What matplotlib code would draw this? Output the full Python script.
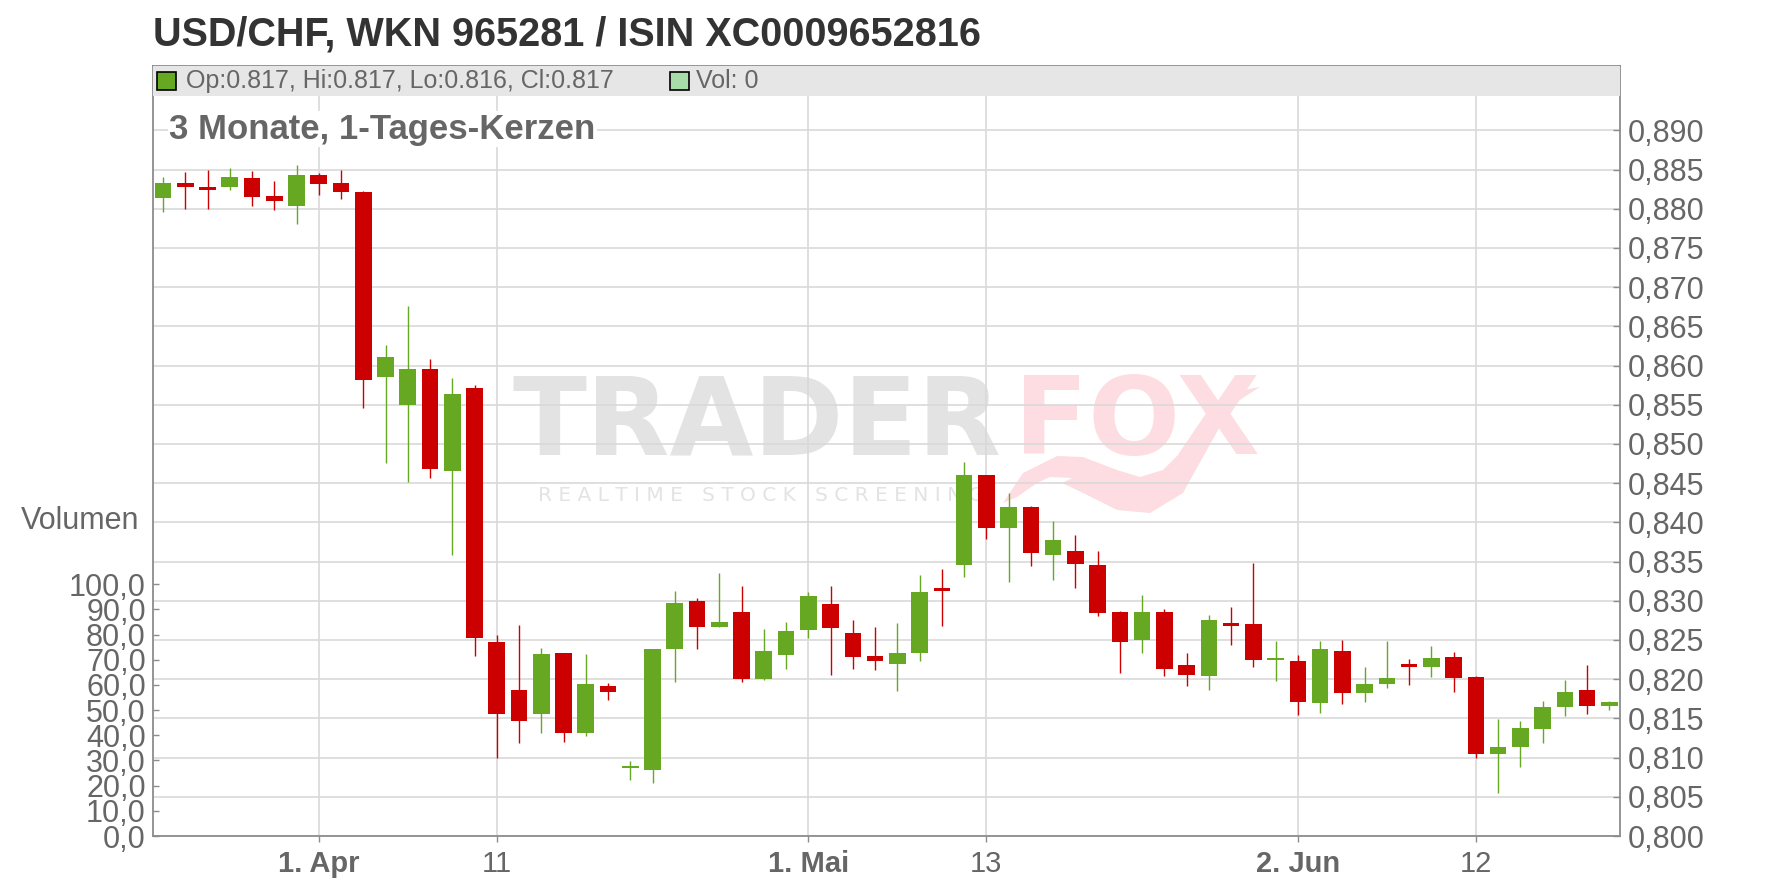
import numpy as np
import pandas as pd
import matplotlib
matplotlib.use("Agg")
import matplotlib.pyplot as plt
from matplotlib.patches import Rectangle, Polygon
from matplotlib.ticker import FixedLocator, FuncFormatter

plt.rcParams["font.family"] = ["Liberation Sans", "DejaVu Sans"]

# ---------------- data ----------------
dates = pd.bdate_range("2025-03-21", "2025-06-20")

open_ = [0.8814, 0.8833, 0.8828, 0.8828, 0.8839, 0.8816, 0.8803, 0.8843, 0.8833, 0.8821,
         0.8585, 0.8550, 0.8596, 0.8466, 0.8571, 0.8247, 0.8186, 0.8155, 0.8233, 0.8132,
         0.8191, 0.8087, 0.8084, 0.8238, 0.8300, 0.8266, 0.8286, 0.8200, 0.8231, 0.8263,
         0.8296, 0.8259, 0.8230, 0.8219, 0.8233, 0.8315, 0.8346, 0.8461, 0.8393, 0.8420,
         0.8358, 0.8364, 0.8346, 0.8286, 0.8250, 0.8286, 0.8218, 0.8204, 0.8272, 0.8270,
         0.8224, 0.8223, 0.8170, 0.8236, 0.8183, 0.8194, 0.8219, 0.8216, 0.8228, 0.8203,
         0.8104, 0.8113, 0.8137, 0.8164, 0.8186, 0.8166]
high = [0.8841, 0.8847, 0.8849, 0.8852, 0.8848, 0.8835, 0.8856, 0.8846, 0.8849, 0.8823,
        0.8626, 0.8676, 0.8608, 0.8584, 0.8575, 0.8257, 0.8269, 0.8240, 0.8233, 0.8232,
        0.8195, 0.8096, 0.8239, 0.8313, 0.8304, 0.8335, 0.8319, 0.8264, 0.8273, 0.8311,
        0.8319, 0.8276, 0.8267, 0.8272, 0.8333, 0.8341, 0.8477, 0.8461, 0.8437, 0.8421,
        0.8402, 0.8384, 0.8364, 0.8287, 0.8307, 0.8290, 0.8233, 0.8282, 0.8292, 0.8348,
        0.8249, 0.8231, 0.8249, 0.8250, 0.8216, 0.8249, 0.8226, 0.8242, 0.8235, 0.8204,
        0.8149, 0.8147, 0.8172, 0.8199, 0.8218, 0.8172]
low = [0.8796, 0.8800, 0.8800, 0.8824, 0.8804, 0.8799, 0.8781, 0.8817, 0.8813, 0.8546,
       0.8476, 0.8451, 0.8456, 0.8359, 0.8230, 0.8099, 0.8118, 0.8132, 0.8120, 0.8128,
       0.8174, 0.8071, 0.8067, 0.8197, 0.8238, 0.8266, 0.8197, 0.8199, 0.8213, 0.8253,
       0.8205, 0.8213, 0.8212, 0.8185, 0.8223, 0.8268, 0.8330, 0.8379, 0.8324, 0.8344,
       0.8327, 0.8316, 0.8281, 0.8208, 0.8233, 0.8204, 0.8191, 0.8186, 0.8244, 0.8216,
       0.8198, 0.8154, 0.8157, 0.8169, 0.8171, 0.8189, 0.8192, 0.8203, 0.8184, 0.8099,
       0.8055, 0.8088, 0.8119, 0.8153, 0.8155, 0.8161]
close = [0.8833, 0.8828, 0.8824, 0.8841, 0.8815, 0.8810, 0.8843, 0.8832, 0.8821, 0.8582,
         0.8611, 0.8596, 0.8468, 0.8564, 0.8252, 0.8156, 0.8147, 0.8232, 0.8132, 0.8194,
         0.8184, 0.8089, 0.8239, 0.8297, 0.8266, 0.8273, 0.8200, 0.8236, 0.8261, 0.8306,
         0.8265, 0.8228, 0.8223, 0.8233, 0.8311, 0.8313, 0.8460, 0.8393, 0.8420, 0.8361,
         0.8378, 0.8347, 0.8284, 0.8247, 0.8286, 0.8213, 0.8205, 0.8276, 0.8268, 0.8224,
         0.8225, 0.8171, 0.8239, 0.8182, 0.8194, 0.8202, 0.8215, 0.8227, 0.8201, 0.8104,
         0.8114, 0.8138, 0.8165, 0.8184, 0.8166, 0.8171]

tick_dates = ["2025-04-01", "2025-04-11", "2025-05-01", "2025-05-13", "2025-06-02", "2025-06-12"]
tick_labels = ["1. Apr", "11", "1. Mai", "13", "2. Jun", "12"]
tick_bold = [True, False, True, False, True, False]

price_ticks = [0.800, 0.805, 0.810, 0.815, 0.820, 0.825, 0.830, 0.835, 0.840, 0.845,
               0.850, 0.855, 0.860, 0.865, 0.870, 0.875, 0.880, 0.885, 0.890]
volume_ticks = [0, 10, 20, 30, 40, 50, 60, 70, 80, 90, 100]

title = "USD/CHF, WKN 965281 / ISIN XC0009652816"
subtitle = "3 Monate, 1-Tages-Kerzen"
legend_text = "Op:0.817, Hi:0.817, Lo:0.816, Cl:0.817"
volume_legend = "Vol: 0"

# ---------------- style ----------------
GREEN = "#66a822"
RED = "#cc0000"
GRID = "#d9d9d9"
AXIS = "#8c8c8c"
LABEL = "#666666"
WM_GRAY = "#e3e3e3"
WM_PINK = "#fddde1"

W, H = 1776, 888
fig = plt.figure(figsize=(W / 100, H / 100), dpi=100)
fig.patch.set_facecolor("white")


def fx(px):
    return px / W


def fy(py):
    return 1 - py / H


L, R, T, B = 152.7, 1620.3, 65.7, 836.0
ax = fig.add_axes([fx(L), fy(B), fx(R) - fx(L), fy(T) - fy(B)])
ax2 = ax.twinx()
ax.set_xlim(-0.465, 65.49)
ax.set_ylim(0.800, 0.89825)

o = np.array(open_)
h = np.array(high)
lo = np.array(low)
c = np.array(close)
x = np.arange(len(dates))
up = c >= o
colors = np.where(up, GREEN, RED)

ax.vlines(x, lo, h, colors=colors, linewidths=1.0, zorder=3)
body_bottom = np.minimum(o, c)
body_h = np.maximum(np.abs(c - o), 0.00028)
ax.bar(x, body_h, bottom=body_bottom, width=0.75, color=colors, linewidth=0, zorder=4)

# grid / price axis (right)
ax.set_axisbelow(True)
ax.yaxis.tick_right()
ax.yaxis.set_major_locator(FixedLocator(price_ticks))
ax.yaxis.set_major_formatter(FuncFormatter(lambda v, p: f"{v:.3f}".replace(".", ",")))
ax.tick_params(axis="y", which="both", left=False, labelleft=False, right=True, labelright=True,
               direction="in", length=5, width=1.0, color=AXIS,
               labelsize=22, labelcolor=LABEL, pad=5.3)

tick_pos = [dates.get_loc(pd.Timestamp(d)) for d in tick_dates]
ax.set_xticks(tick_pos)
ax.set_xticklabels(tick_labels)
for lab, b in zip(ax.get_xticklabels(), tick_bold):
    lab.set_fontweight("bold" if b else "normal")
ax.tick_params(axis="x", direction="out", length=4, width=1.0, color=AXIS,
               labelsize=21, labelcolor=LABEL, pad=6)
ax.grid(True, color=GRID, linewidth=1.2, zorder=0.5)

for s in ax.spines.values():
    s.set_color(AXIS)
    s.set_linewidth(1.3)

# volume axis (left)
ax2.set_ylim(0, 306)
ax2.yaxis.set_major_locator(FixedLocator(volume_ticks))
ax2.yaxis.set_major_formatter(FuncFormatter(lambda v, p: f"{v:.1f}".replace(".", ",")))
ax2.tick_params(axis="y", left=True, labelleft=True, right=False, labelright=False,
                direction="in", length=4, width=1.0, color=AXIS,
                labelsize=22, labelcolor=LABEL, pad=5)
for s in ax2.spines.values():
    s.set_visible(False)

# legend band
band_y = (B - 95.7) / (B - T)
ax.add_patch(Rectangle((0, band_y), 1, 1 - band_y, transform=ax.transAxes,
                       facecolor="#e6e6e6", edgecolor="none", zorder=5, clip_on=False))
fig.add_artist(Rectangle((fx(157), fy(90)), fx(18.5), fy(72) - fy(90), transform=fig.transFigure,
                         facecolor=GREEN, edgecolor="black", linewidth=1.2, zorder=10))
fig.text(fx(185.5), fy(81), legend_text, fontsize=18, color=LABEL, va="center", ha="left")
fig.add_artist(Rectangle((fx(670), fy(90)), fx(18.5), fy(72) - fy(90), transform=fig.transFigure,
                         facecolor="#a8dca8", edgecolor="black", linewidth=1.2, zorder=10))
fig.text(fx(696), fy(81), volume_legend, fontsize=18, color=LABEL, va="center", ha="left")

# watermark
ax.text(fx(512), fy(424), "TRADER", transform=fig.transFigure, fontsize=78,
        family="DejaVu Sans", fontweight="bold", color=WM_GRAY, va="center", ha="left", zorder=0.2)
ax.text(fx(1014), fy(424), "FOX", transform=fig.transFigure, fontsize=78,
        family="DejaVu Sans", fontweight="bold", color=WM_PINK, va="center", ha="left", zorder=0.2)
ax.text(fx(538), fy(495), "R E A L T I M E   S T O C K   S C R E E N I N G", transform=fig.transFigure,
        fontsize=14.5, family="DejaVu Sans", color=WM_GRAY, va="center", ha="left", zorder=0.2)
fox_tail = [(1003, 503), (1023, 473), (1057, 456), (1083, 457), (1117, 470), (1140, 477),
            (1163, 470), (1190, 443), (1217, 410), (1243, 390), (1260, 387), (1232, 405),
            (1203, 457), (1183, 493), (1150, 513), (1117, 510), (1083, 493), (1062, 483),
            (1072, 478), (1050, 477), (1037, 483), (1017, 497)]
ax.add_patch(Polygon([(fx(px), fy(py)) for px, py in fox_tail], closed=True,
                     transform=fig.transFigure, facecolor=WM_PINK, edgecolor="none", zorder=0.2))

# titles
fig.text(fx(153), fy(34), title, fontsize=28.5, fontweight="bold", color="#333333",
         va="center", ha="left")
ax.text(fx(169), fy(129), subtitle, transform=fig.transFigure, fontsize=25, fontweight="bold",
        color=LABEL, va="center", ha="left", zorder=6,
        bbox=dict(facecolor="white", edgecolor="none", pad=1))
fig.text(fx(139), fy(521), "Volumen", fontsize=22, color=LABEL, va="center", ha="right")

fig.savefig("out.png", dpi=100)
